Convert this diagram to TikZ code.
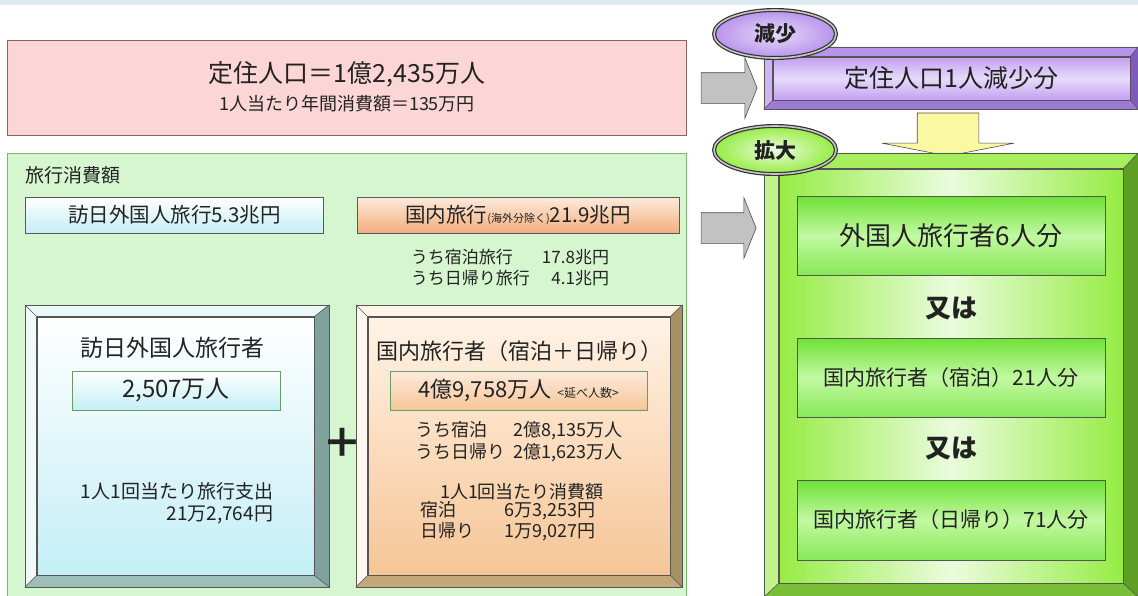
\documentclass[tikz,border=0pt]{standalone}
\usepackage{fontspec}
\setmainfont{Noto Sans CJK JP}
\usepackage{tikz}
\usetikzlibrary{shapes.arrows,shapes.geometric}

\definecolor{stripblue}{HTML}{DCEBF1}
\definecolor{popfill}{HTML}{FCD6D6}
\definecolor{popline}{HTML}{8E6262}
\definecolor{spendfill}{HTML}{D5F6CF}
\definecolor{spendline}{HTML}{78B86C}
\definecolor{cyanlo}{HTML}{C4EEF6}
\definecolor{teallight}{HTML}{EAF8F8}
\definecolor{tealdark}{HTML}{7FA29C}
\definecolor{tealmid}{HTML}{9DBFB8}
\definecolor{peachhi}{HTML}{FDEBDD}
\definecolor{peachlo}{HTML}{F2AE7E}
\definecolor{creamlight}{HTML}{FFF3E6}
\definecolor{facepeach}{HTML}{F6C596}
\definecolor{olivedark}{HTML}{A49262}
\definecolor{olivemid}{HTML}{C2A878}
\definecolor{lavhi}{HTML}{E6DAFA}
\definecolor{lavlo}{HTML}{C3A0F0}
\definecolor{purtop}{HTML}{B893EC}
\definecolor{purright}{HTML}{7E5CBE}
\definecolor{purbot}{HTML}{9E7AD8}
\definecolor{grtop}{HTML}{A6EE5C}
\definecolor{grright}{HTML}{5E9E24}
\definecolor{grbot}{HTML}{78BE36}
\definecolor{grface}{HTML}{96EC44}
\definecolor{grcenter}{HTML}{EAFCDD}
\definecolor{grbox}{HTML}{6EE236}
\definecolor{grboxhi}{HTML}{C2F8A2}
\definecolor{arrowgray}{HTML}{C2C2C2}
\definecolor{arrowyellow}{HTML}{FBF8A2}
\definecolor{edgegray}{HTML}{555555}
\definecolor{inkgray}{HTML}{222222}

\newcommand{\sz}[2]{\fontsize{#1}{#2}\selectfont}
% outer node, face node, top colour, right colour, bottom colour
\newcommand{\bevelframe}[5]{%
  \fill[#3] (#1.north west) -- (#1.north east) -- (#2.north east) -- (#2.north west) -- cycle;
  \fill[#3!70!white] (#1.north west) -- (#2.north west) -- (#2.south west) -- (#1.south west) -- cycle;
  \fill[#4] (#1.north east) -- (#1.south east) -- (#2.south east) -- (#2.north east) -- cycle;
  \fill[#5] (#1.south west) -- (#2.south west) -- (#2.south east) -- (#1.south east) -- cycle;
  \draw[edgeline] (#1.north west) -- (#2.north west) (#1.north east) -- (#2.north east)
                  (#1.south west) -- (#2.south west) (#1.south east) -- (#2.south east);
  \draw[edgeline] (#1.north west) rectangle (#1.south east);
  \draw[edgeline] (#2.north west) rectangle (#2.south east);
}

\begin{document}
\begin{tikzpicture}[x=1pt,y=-1pt,
    every node/.style={text=inkgray, inner sep=0pt},
    panel/.style={rectangle, draw=#1, line width=0.8pt},
    face/.style={rectangle, draw=edgegray, line width=0.6pt},
    edgeline/.style={draw=edgegray, line width=0.6pt},
    oval/.style={ellipse, draw=black!80, line width=1.2pt, double=gray!45,
                 double distance=1.6pt, minimum width=122pt, minimum height=48pt},
    blockarrow/.style={single arrow, draw=black!70, line width=0.6pt,
                       inner xsep=0pt, single arrow head indent=0pt}]

    \useasboundingbox (0,0) rectangle (1138,595);
    \fill[white] (0,0) rectangle (1138,595);
    \fill[stripblue] (0,0) rectangle (1138,5);

    \node[panel=popline,
          fill=popfill,
          minimum width=679pt,
          minimum height=95pt
          ] (pop) at (347,87.5) {};
    \node (popT) at (347,74) {\sz{25}{30}定住人口＝1億2,435万人};
    \node (popS) at (347,104) {\sz{18}{22}1人当たり年間消費額＝135万円};

    \node[panel=spendline,
          fill=spendfill,
          minimum width=679pt,
          minimum height=446pt
          ] (spend) at (346.5,376) {};
    \node[anchor=west] (spendT) at (25,175) {\sz{19}{22}旅行消費額};

    \node[panel=black!65,
          top color=white,
          bottom color=cyanlo,
          minimum width=298pt,
          minimum height=36pt
          ] (visAmt) at (174.5,215) {\sz{20.5}{24}訪日外国人旅行5.3兆円};
    \node[panel=black!65,
          top color=peachhi,
          bottom color=peachlo,
          minimum width=322pt,
          minimum height=36pt
          ] (domAmt) at (518,215) {\sz{20.5}{24}国内旅行{\sz{11}{12}(海外分除く)}21.9兆円};
    \node (domSplit) at (510,270) {\sz{17}{21}\begin{tabular}{@{}l@{\hspace{12pt}}r@{}}
        うち宿泊旅行 & 17.8兆円\\ うち日帰り旅行 & 4.1兆円\end{tabular}};

    %visitors
    \node[minimum width=304pt, minimum height=282pt] (visOut) at (177,446) {};
    \node[face,
          top color=white,
          bottom color=cyanlo,
          minimum width=277pt,
          minimum height=258pt
          ] (visFace) at (175.5,446) {};
    \bevelframe{visOut}{visFace}{teallight}{tealdark}{tealmid}
    \node (visT) at (172,348) {\sz{23}{27}訪日外国人旅行者};
    \node[panel=green!35!black!60,
          top color=white,
          bottom color=cyanlo,
          minimum width=208pt,
          minimum height=39pt
          ] (visNum) at (176,390.5) {\sz{24}{28}2,507万人};
    \node[align=right, font={\sz{19}{22}}] (visPer) at (177,503)
        {1人1回当たり旅行支出\\21万2,764円};

    \node (plus) at (342,443) {\sz{40}{40}\textbf{＋}};

    %domestic
    \node[minimum width=326pt, minimum height=282pt] (domOut) at (519,446) {};
    \node[face,
          top color=creamlight,
          bottom color=facepeach,
          minimum width=302pt,
          minimum height=258pt
          ] (domFace) at (519,446) {};
    \bevelframe{domOut}{domFace}{creamlight}{olivedark}{olivemid}
    \node (domT) at (519,351) {\sz{22}{26}国内旅行者（宿泊＋日帰り）};
    \node[panel=green!35!black!60,
          top color=peachhi,
          bottom color=facepeach,
          minimum width=257pt,
          minimum height=39pt
          ] (domNum) at (518.5,390.5) {\sz{22}{26}4億9,758万人\hspace{6pt}{\sz{12}{14}<延べ人数>}};
    \node (domStay) at (519,443) {\sz{18}{21}\begin{tabular}{@{}l@{\hspace{8pt}}r@{}}
        うち宿泊 & 2億8,135万人\\ うち日帰り & 2億1,623万人\end{tabular}};
    \node (domPerT) at (522,492) {\sz{18}{21}1人1回当たり消費額};
    \node (domPerV) at (508,522) {\sz{18}{20}\begin{tabular}{@{}l@{\hspace{30pt}}r@{}}
        宿泊 & 6万3,253円\\ 日帰り & 1万9,027円\end{tabular}};

    \node[blockarrow,
          fill=arrowgray,
          inner ysep=15pt,
          minimum height=56pt,
          single arrow head extend=15pt,
          single arrow tip angle=136
          ] (arrA) at (726,88) {};
    \node[blockarrow,
          fill=arrowgray,
          inner ysep=15pt,
          minimum height=55pt,
          single arrow head extend=15pt,
          single arrow tip angle=136
          ] (arrB) at (725.5,228) {};

    %decrease
    \node[minimum width=374pt, minimum height=62pt] (decOut) at (951,78) {};
    \node[face,
          top color=lavlo,
          bottom color=lavlo,
          middle color=lavhi,
          minimum width=357pt,
          minimum height=43pt
          ] (decFace) at (951.5,78.5) {\sz{25}{29}定住人口1人減少分};
    \bevelframe{decOut}{decFace}{purtop}{purright}{purbot}

    \node[blockarrow,
          fill=arrowyellow,
          rotate=-90,
          inner ysep=30.5pt,
          minimum height=43pt,
          single arrow head extend=35.5pt,
          single arrow tip angle=158
          ] (arrC) at (948,131.5) {};

    %increase
    \node[minimum width=374pt, minimum height=444pt] (incOut) at (951,375) {};
    \node[face,
          left color=grface,
          right color=grface,
          middle color=grcenter,
          minimum width=344pt,
          minimum height=414pt
          ] (incFace) at (951,376) {};
    \bevelframe{incOut}{incFace}{grtop}{grright}{grbot}

    \node[face,
          top color=grbox,
          bottom color=grbox!70!grboxhi,
          middle color=grboxhi,
          minimum width=308pt,
          minimum height=79pt
          ] (incA) at (951,235.5) {\sz{26}{30}外国人旅行者6人分};
    \node[face,
          top color=grbox,
          bottom color=grbox!70!grboxhi,
          middle color=grboxhi,
          minimum width=308pt,
          minimum height=79pt
          ] (incB) at (951,377.5) {\sz{21}{24}国内旅行者（宿泊）21人分};
    \node[face,
          top color=grbox,
          bottom color=grbox!70!grboxhi,
          middle color=grboxhi,
          minimum width=308pt,
          minimum height=80pt
          ] (incC) at (951,520) {\sz{21}{24}国内旅行者（日帰り）71人分};
    \node (orA) at (951,308) {\sz{26}{30}\textbf{又は}};
    \node (orB) at (951,448) {\sz{26}{30}\textbf{又は}};

    \node[oval, inner color=lavhi, outer color=purtop] (decE) at (775,34) {\sz{21}{24}\textbf{減少}};
    \node[oval, inner color=grcenter, outer color=grface] (incE) at (775,150) {\sz{21}{24}\textbf{拡大}};

\end{tikzpicture}
\end{document}
